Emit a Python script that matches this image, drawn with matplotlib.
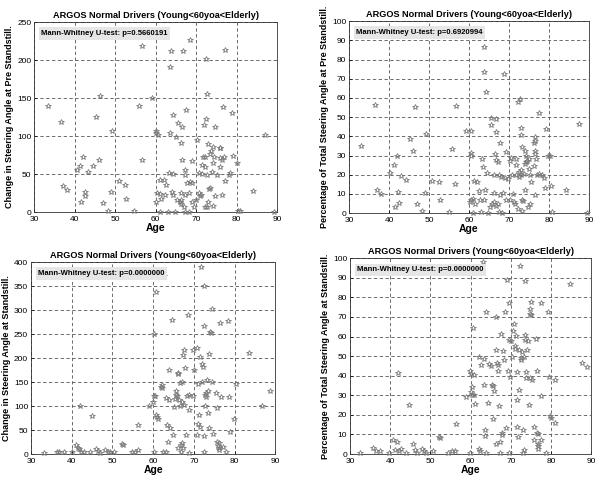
import numpy as np
import matplotlib
matplotlib.use("Agg")
import matplotlib.pyplot as plt

plt.rcParams['font.family'] = ['Liberation Sans', 'DejaVu Sans']

TITLE = "ARGOS Normal Drivers (Young<60yoa<Elderly)"

# -- panel 1: change in steering angle at pre standstill
age_pre = [33.5, 36.6, 37.1, 38.2, 40.7, 41.3, 42.2, 41.7, 42.5, 42.5, 43.3, 44.5, 45.2, 46.1,
           46.4, 47.1, 48.3, 49.1, 49.3, 50.9, 52.4, 52.6, 54.8, 55.8, 56.6, 56.7, 59.2, 60.2,
           60.2, 60.6, 60.2, 60.4, 61.0, 61.1, 61.1, 61.4, 62.0, 62.4, 62.6, 63.2, 63.3, 63.7,
           63.8, 63.7, 64.2, 64.0, 64.3, 64.3, 64.7, 65.1, 65.5, 65.4, 66.0, 66.2, 66.2, 66.3,
           66.6, 66.5, 66.8, 66.4, 67.2, 67.0, 67.4, 67.4, 67.6, 67.4, 67.8, 68.2, 68.5, 68.2,
           68.6, 69.0, 69.0, 69.0, 69.4, 70.1, 70.3, 70.8, 70.9, 70.8, 71.2, 71.5, 71.5, 71.9,
           71.7, 72.1, 72.3, 72.5, 72.3, 72.6, 72.5, 72.7, 72.7, 72.9, 72.9, 73.1, 73.4, 73.5,
           73.8, 74.0, 74.1, 74.1, 74.1, 74.4, 74.7, 74.8, 75.2, 75.8, 75.8, 75.8, 76.0, 76.3,
           76.4, 76.6, 77.1, 76.8, 77.2, 78.1, 78.5, 78.9, 79.1, 80.1, 80.3, 80.8, 84.0, 87.0,
           89.2]
chg_pre = [139, 119, 35, 29, 55, 61, 72, 14, 21, 27, 53, 61, 125, 69,
           153, 12, 1, 26, 107, 41, 36, 17, 2, 139, 68, 219, 150, 107,
           104, 102, 13, 25, 24, 42, 0, 17, 42, 23, 36, 0, 51, 104,
           212, 191, 128, 27, 23, 50, 0, 99, 117, 16, 14, 25, 11, 91,
           68, 112, 212, 16, 0, 7, 55, 49, 134, 23, 38, 0, 226, 25,
           40, 38, 67, 14, 7, 16, 95, 25, 21, 51, 23, 50, 62, 115,
           73, 7, 60, 122, 73, 156, 202, 7, 49, 14, 89, 31, 77, 32,
           81, 53, 8, 64, 86, 73, 112, 21, 49, 84, 71, 60, 84, 69,
           23, 138, 213, 73, 41, 49, 51, 130, 74, 64, 2, 1, 28, 101,
           0]

# -- panel 2: percentage of total steering angle at pre standstill
age_pct_pre = [33.1, 36.4, 37.1, 38.1, 40.3, 41.3, 41.6, 42.1, 42.3, 42.4, 43.1, 44.3, 45.2, 46.0,
               46.4, 47.1, 48.3, 49.1, 49.3, 50.8, 52.5, 52.7, 54.9, 55.8, 56.6, 56.7, 59.3, 60.4,
               60.4, 60.6, 60.3, 60.6, 61.0, 61.2, 61.0, 61.4, 62.1, 62.5, 62.7, 63.1, 63.3, 63.5,
               63.8, 63.8, 63.8, 63.9, 64.3, 64.5, 64.8, 65.2, 65.4, 65.6, 65.8, 66.2, 66.3, 66.3,
               66.4, 66.7, 66.7, 66.8, 66.8, 67.3, 67.3, 67.4, 67.5, 67.7, 67.8, 67.9, 68.3, 68.5,
               68.7, 69.1, 69.2, 69.3, 69.8, 70.2, 70.3, 70.6, 70.8, 71.0, 71.3, 71.4, 71.7, 71.8,
               71.8, 72.3, 72.3, 72.4, 72.5, 72.8, 72.9, 72.9, 72.9, 73.0, 73.2, 73.3, 73.3, 73.5,
               73.7, 73.9, 74.1, 74.1, 74.3, 74.3, 74.6, 74.8, 74.9, 75.0, 75.2, 75.3, 75.6, 76.2,
               76.3, 76.4, 76.4, 76.5, 76.6, 76.6, 76.8, 77.1, 77.5, 77.5, 78.3, 78.8, 79.1, 79.3,
               79.8, 80.3, 80.6, 80.8, 84.3, 87.5, 89.5]
pct_pre = [34.7, 56.4, 12.2, 10.0, 21.0, 25.3, 3.1, 30.0, 10.9, 5.4, 19.3, 17.0, 38.7, 32.3,
           55.2, 4.5, 1.0, 10.6, 41.3, 16.7, 16.1, 6.9, 0.5, 33.5, 15.3, 55.9, 43.0, 30.0,
           31.2, 43.0, 5.7, 6.6, 7.5, 16.5, 0.2, 4.9, 16.1, 11.5, 6.6, 0.5, 28.3, 24.0,
           86.5, 73.4, 6.6, 12.2, 63.0, 21.0, 0.2, 3.1, 45.7, 49.5, 4.5, 20.1, 10.4, 5.7,
           30.9, 42.2, 48.8, 27.8, 3.5, 4.5, 26.6, 0.5, 19.6, 9.5, 36.5, 18.8, 0.2, 10.4,
           72.2, 18.4, 31.8, 6.6, 17.9, 6.6, 27.1, 28.8, 20.1, 10.1, 5.7, 4.5, 25.3, 28.3,
           20.1, 57.8, 1.9, 21.4, 18.8, 59.2, 44.3, 40.5, 19.6, 22.6, 6.9, 1.0, 34.4, 6.3,
           20.5, 25.7, 32.6, 12.2, 26.6, 30.0, 27.4, 3.1, 23.1, 28.3, 4.5, 20.0, 16.1, 24.5,
           36.5, 39.6, 30.9, 37.5, 32.3, 9.5, 28.3, 20.1, 52.3, 20.5, 19.6, 18.4, 13.2, 43.9,
           29.7, 30.0, 14.1, 0.5, 11.8, 46.5, 0.2]

# -- panel 3: change in steering angle at standstill
age_st = [33.1, 36.5, 37.0, 38.0, 40.1, 41.1, 41.5, 41.9, 42.1, 42.3, 43.1, 44.4, 45.1, 45.9,
          46.4, 47.0, 48.1, 48.8, 49.5, 50.5, 52.3, 52.5, 54.8, 55.6, 56.2, 56.2, 59.0, 59.9,
          60.1, 60.3, 60.3, 60.5, 60.7, 60.7, 60.9, 61.2, 61.9, 62.1, 62.3, 62.4, 62.8, 63.1,
          63.1, 63.4, 63.6, 63.8, 64.0, 64.2, 64.6, 65.0, 65.2, 65.4, 65.6, 65.6, 65.8, 66.0,
          66.1, 66.2, 66.4, 66.5, 66.6, 66.8, 66.9, 67.0, 67.0, 67.2, 67.3, 67.4, 67.6, 67.7,
          67.9, 68.1, 68.3, 68.5, 68.7, 68.7, 68.7, 69.7, 69.9, 70.1, 70.7, 70.9, 71.0, 71.1,
          71.3, 71.4, 71.4, 71.7, 71.9, 72.1, 72.2, 72.4, 72.5, 72.6, 72.6, 72.7, 72.7, 72.9,
          73.0, 73.2, 73.4, 73.6, 73.7, 73.8, 74.0, 74.2, 74.4, 74.4, 74.8, 75.5, 75.6, 75.8,
          75.9, 76.1, 76.1, 76.2, 76.4, 76.7, 77.1, 77.9, 78.5, 78.7, 78.9, 79.9, 80.3, 83.6,
          86.7, 88.7]
chg_st = [3, 5, 5, 5, 4, 18, 12, 10, 101, 5, 5, 4, 80, 11,
          7, 2, 8, 5, 4, 4, 21, 18, 4, 5, 60, 8, 101, 109,
          122, 5, 251, 120, 338, 82, 78, 73, 140, 137, 143, 5, 372, 5,
          116, 61, 26, 175, 113, 55, 279, 40, 99, 114, 131, 123, 120, 169,
          166, 12, 113, 100, 149, 5, 19, 23, 109, 151, 206, 12, 102, 217,
          180, 40, 122, 289, 3, 123, 92, 122, 217, 175, 40, 222, 146, 62,
          82, 57, 203, 390, 151, 188, 182, 37, 4, 350, 266, 101, 123, 118,
          127, 154, 131, 85, 54, 208, 255, 253, 151, 302, 42, 128, 96, 26,
          17, 23, 9, 12, 273, 118, 15, 4, 277, 118, 47, 73, 146, 210,
          101, 132]

# -- panel 4: percentage of total steering angle at standstill
age_pct_st = [32.5, 35.8, 36.5, 37.5, 39.8, 40.8, 41.2, 41.8, 41.9, 42.2, 42.7, 44.0, 44.8, 45.8,
              46.2, 46.6, 47.9, 48.5, 48.9, 50.6, 52.2, 52.4, 54.5, 55.5, 56.2, 56.4, 58.9, 59.9,
              60.1, 60.3, 60.2, 60.3, 60.5, 60.8, 60.9, 60.9, 61.2, 59.9, 62.0, 62.2, 62.4, 62.6,
              63.1, 63.3, 63.4, 63.5, 63.5, 63.8, 63.9, 64.3, 64.5, 65.1, 65.3, 65.5, 65.7, 65.9,
              66.2, 66.3, 66.4, 66.6, 66.7, 66.8, 67.0, 67.2, 67.4, 67.6, 67.7, 67.8, 68.0, 68.2,
              68.6, 68.8, 69.1, 69.2, 69.5, 69.5, 69.5, 69.9, 70.1, 70.3, 70.6, 70.7, 71.0, 71.1,
              71.4, 71.6, 71.6, 71.6, 71.7, 72.0, 72.1, 72.4, 72.6, 72.6, 72.8, 73.0, 73.1, 73.2,
              73.4, 73.5, 73.5, 73.6, 73.8, 73.8, 74.1, 74.3, 74.6, 74.7, 74.7, 74.9, 75.1, 75.1,
              75.3, 75.7, 75.9, 76.3, 76.4, 76.5, 76.7, 76.7, 76.8, 76.8, 77.4, 77.5, 77.6, 79.2,
              79.4, 79.7, 79.9, 78.8, 80.9, 81.1, 84.7, 87.8, 89.0]
pct_st = [0.8, 2.9, 1.7, 1.5, 0.8, 7.1, 2.0, 6.0, 41.4, 1.7, 2.5, 0.8, 25.0, 5.4,
          2.0, 0.7, 2.4, 1.7, 0.8, 1.7, 8.5, 8.0, 0.8, 1.7, 1.7, 15.6, 29.2, 42.3,
          41.1, 34.3, 31.7, 30.0, 64.5, 40.2, 92.4, 30.0, 25.8, 0.8, 49.6, 2.5, 1.7, 45.3,
          98.3, 48.7, 35.5, 12.2, 9.3, 0.8, 72.8, 26.3, 45.8, 44.8, 35.5, 17.8, 34.8, 32.1,
          70.0, 5.1, 53.0, 46.5, 45.7, 42.4, 24.6, 0.8, 6.3, 61.1, 10.9, 9.7, 52.5, 48.2,
          72.8, 13.1, 89.0, 42.3, 58.4, 77.1, 0.8, 39.4, 57.6, 49.6, 62.8, 66.6, 55.0, 53.8,
          60.3, 41.9, 27.5, 13.9, 8.8, 53.0, 32.9, 95.8, 48.2, 49.1, 52.1, 12.2, 0.8, 2.0,
          49.6, 88.6, 58.1, 61.0, 38.9, 41.9, 53.3, 57.8, 25.3, 74.2, 71.6, 38.9, 70.8, 77.6,
          38.0, 13.6, 7.1, 58.9, 42.4, 11.0, 10.5, 5.4, 4.1, 2.4, 29.5, 77.1, 7.1, 72.5,
          39.4, 19.5, 18.2, 0.8, 16.1, 37.7, 86.9, 46.5, 44.5]

panels = [
    # axes rect, ages, values, ymax, ystep, ylabel, p-value text
    ([0.0564, 0.558, 0.403, 0.396], age_pre, chg_pre, 250, 50,
     "Change in Steering Angle at Pre Standstill.", "Mann-Whitney U-test: p=0.5660191"),
    ([0.5788, 0.556, 0.398, 0.400], age_pct_pre, pct_pre, 100, 10,
     "Percentage of Total Steering Angle at Pre Standstill.", "Mann-Whitney U-test: p=0.6920994"),
    ([0.0514, 0.054, 0.405, 0.400], age_st, chg_st, 400, 50,
     "Change in Steering Angle at Standstill.", "Mann-Whitney U-test: p=0.0000000"),
    ([0.5804, 0.054, 0.400, 0.408], age_pct_st, pct_st, 100, 10,
     "Percentage of Total Steering Angle at Standstill.", "Mann-Whitney U-test: p=0.0000000"),
]

fig = plt.figure(figsize=(6.03, 4.8), dpi=100)
for rect, ages, vals, ymax, ystep, ylab, ptxt in panels:
    ax = fig.add_axes(rect)
    ax.plot(ages, vals, linestyle='none', marker='*', ms=4, mfc='none',
            mec='#7a7a7a', mew=0.6, clip_on=False, zorder=3)
    ax.set_xlim(30, 90)
    ax.set_ylim(0, ymax)
    ax.set_xticks(np.arange(30, 91, 10))
    ax.set_yticks(np.arange(0, ymax + 1, ystep))
    ax.grid(True, linestyle=(0, (4, 3)), color='#555555', linewidth=0.6)
    ax.tick_params(direction='in', labelsize=6, length=2, width=0.5)
    ax.tick_params(axis='x', pad=2.5)
    ax.tick_params(axis='y', pad=2)
    for s in ax.spines.values():
        s.set_linewidth(0.6)
        s.set_color('#333333')
    ax.set_title(TITLE, fontsize=6.6, fontweight='bold', pad=3)
    ax.set_xlabel("Age", fontsize=7.5, fontweight='bold', labelpad=0.5)
    ax.set_ylabel(ylab, fontsize=6.5, fontweight='bold', labelpad=2)
    ax.text(0.03, 0.94, ptxt, transform=ax.transAxes, fontsize=5.5, fontweight='bold',
            va='center', ha='left', zorder=4,
            bbox=dict(boxstyle='square,pad=0.35', fc='#e6e6e6', ec='none'))

fig.savefig("out.png", dpi=100)
